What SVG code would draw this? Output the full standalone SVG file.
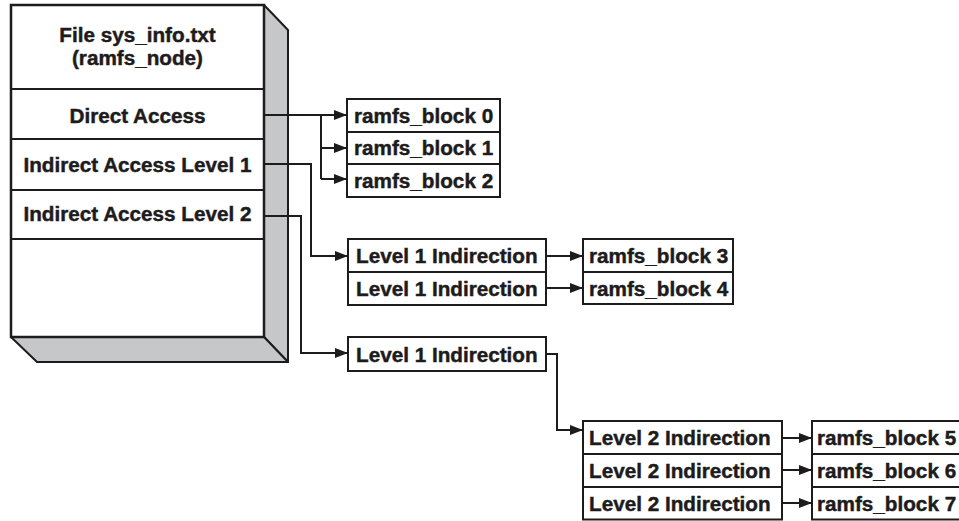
<svg xmlns="http://www.w3.org/2000/svg" width="959" height="521" viewBox="0 0 959 521">
<defs>
<style>
.t{font-family:"Liberation Sans",Arial,sans-serif;font-weight:bold;font-size:20.7px;fill:#1d1b1c;stroke:#1d1b1c;stroke-width:0.45}
.c{text-anchor:middle}
.box{fill:#fff;stroke:#1d1b1c;stroke-width:2}
.face{fill:#c6c7c9;stroke:#1d1b1c;stroke-width:2;stroke-linejoin:round}
.ln{fill:none;stroke:#1d1b1c;stroke-width:2}
.cn{fill:none;stroke:#1d1b1c;stroke-width:2;marker-end:url(#ah)}
</style>
<marker id="ah" markerWidth="13" markerHeight="11" refX="13" refY="5.5" orient="auto" markerUnits="userSpaceOnUse">
<path d="M0,0.5 L13,5.5 L0,10.5 z" fill="#1d1b1c"/>
</marker>
</defs>
<g id="ramfs_node">
<polygon class="face" points="264,5 288,30 288,362 264,337"/>
<polygon class="face" points="11,337 264,337 288,362 37,362"/>
<rect class="box" x="11" y="5" width="253" height="332" style="stroke-width:2.5"/>
<line class="ln" x1="11" y1="89" x2="264" y2="89"/>
<line class="ln" x1="11" y1="139" x2="264" y2="139"/>
<line class="ln" x1="11" y1="190" x2="264" y2="190"/>
<line class="ln" x1="11" y1="239" x2="264" y2="239"/>
<text class="t c" x="137.5" y="42">File sys_info.txt</text>
<text class="t c" x="137.5" y="65">(ramfs_node)</text>
<text class="t c" x="137.5" y="123">Direct Access</text>
<text class="t c" x="137.5" y="172">Indirect Access Level 1</text>
<text class="t c" x="137.5" y="221">Indirect Access Level 2</text>
</g>
<g id="direct_blocks">
<rect class="box" x="347" y="99" width="153" height="98"/>
<line class="ln" x1="347" y1="132" x2="500" y2="132"/>
<line class="ln" x1="347" y1="164" x2="500" y2="164"/>
<text class="t" x="354" y="123">ramfs_block 0</text>
<text class="t" x="354" y="155">ramfs_block 1</text>
<text class="t" x="354" y="188">ramfs_block 2</text>
</g>
<g id="level1_a">
<rect class="box" x="348" y="239" width="198" height="66"/>
<line class="ln" x1="348" y1="272" x2="546" y2="272"/>
<text class="t" x="356" y="263">Level 1 Indirection</text>
<text class="t" x="356" y="296">Level 1 Indirection</text>
</g>
<g id="blocks_3_4">
<rect class="box" x="583" y="239" width="150" height="65"/>
<line class="ln" x1="583" y1="272" x2="733" y2="272"/>
<text class="t" x="589" y="263">ramfs_block 3</text>
<text class="t" x="589" y="296">ramfs_block 4</text>
</g>
<g id="level1_b">
<rect class="box" x="348" y="337" width="198" height="34"/>
<text class="t" x="356" y="362">Level 1 Indirection</text>
</g>
<g id="level2">
<rect class="box" x="583" y="421" width="199" height="98.5"/>
<line class="ln" x1="583" y1="454" x2="782" y2="454"/>
<line class="ln" x1="583" y1="487" x2="782" y2="487"/>
<text class="t" x="589" y="445">Level 2 Indirection</text>
<text class="t" x="589" y="478">Level 2 Indirection</text>
<text class="t" x="589" y="511">Level 2 Indirection</text>
</g>
<g id="blocks_5_7">
<rect class="box" x="812" y="421" width="160" height="98.5"/>
<line class="ln" x1="812" y1="454" x2="972" y2="454"/>
<line class="ln" x1="812" y1="487" x2="972" y2="487"/>
<text class="t" x="817" y="445">ramfs_block 5</text>
<text class="t" x="817" y="478">ramfs_block 6</text>
<text class="t" x="817" y="511">ramfs_block 7</text>
</g>
<g id="connectors">
<path class="cn" d="M264,115 H347"/>
<path class="ln" d="M321,115 V179"/>
<path class="cn" d="M321,148 H347"/>
<path class="cn" d="M321,179 H347"/>
<path class="cn" d="M264,164 H311 V256 H348"/>
<path class="cn" d="M264,216 H301 V353 H348"/>
<path class="cn" d="M546,256 H583"/>
<path class="cn" d="M546,288 H583"/>
<path class="cn" d="M546,354 H557 V430 H583"/>
<path class="cn" d="M782,438 H812"/>
<path class="cn" d="M782,470 H812"/>
<path class="cn" d="M782,503 H812"/>
</g>
</svg>
